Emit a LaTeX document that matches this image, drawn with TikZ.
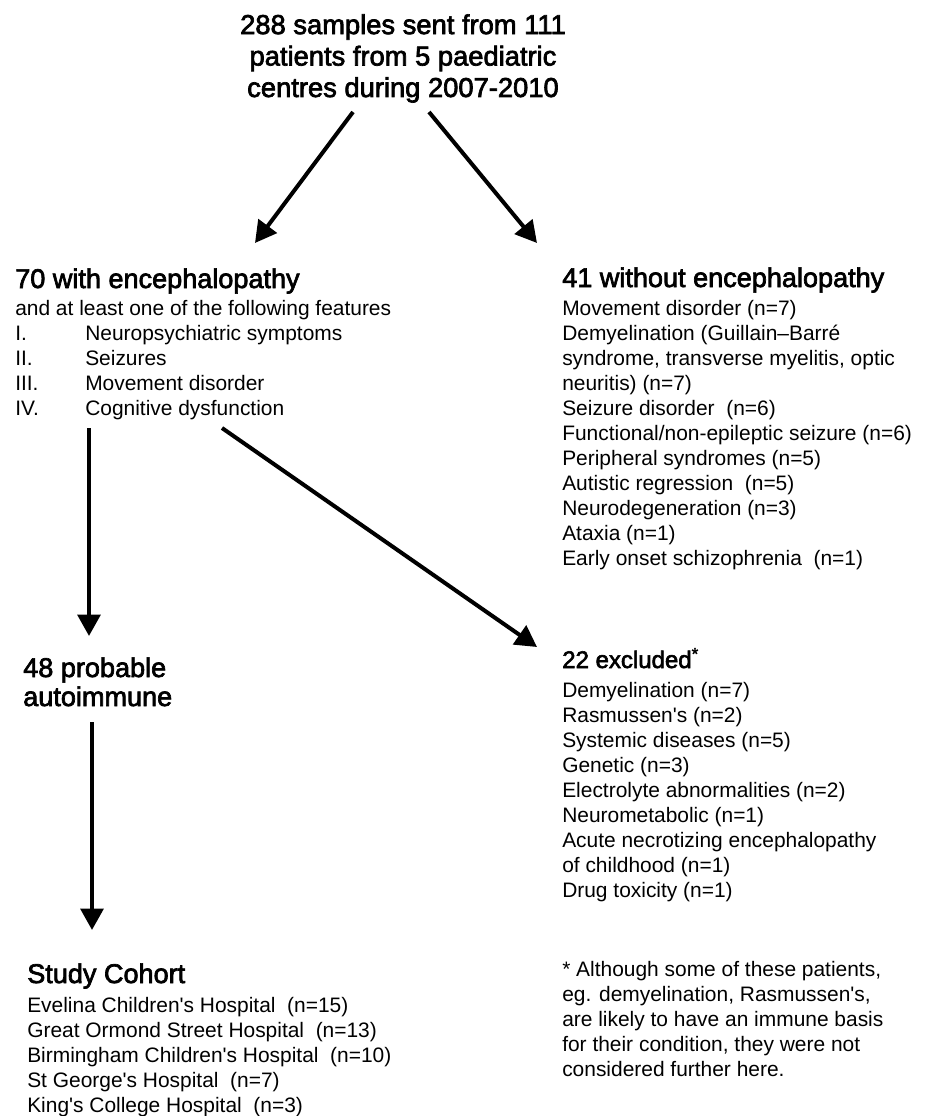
\documentclass[tikz,border=0pt]{standalone}
\usepackage{fontspec}
\setmainfont{Liberation Sans}[Ligatures=TeXOff]
\newfontfamily\headfont[RawFeature={embolden=2.5},Ligatures=TeXOff]{Liberation Sans}
\usetikzlibrary{arrows.meta}
\begin{document}
\begin{tikzpicture}[x=0.75pt,y=-0.75pt,
  txt/.style={anchor=base west, align=left, inner sep=0pt, font=\fontsize{15.7}{18.75}\selectfont},
  head/.style={anchor=base west, align=left, inner sep=0pt, font=\headfont\fontsize{20.3}{21.75}\selectfont},
  arr/.style={line width=3pt, -{Triangle[length=16pt,width=17pt]}}]
\fill[white] (0,0) rectangle (928,1116);
\useasboundingbox (0,0) rectangle (928,1116);
% title (anchor at baseline of last line)
\node[head, anchor=base, align=center, font=\headfont\fontsize{20.5}{23.6}\selectfont] (title) at (403,97)
  {288 samples sent from 111\\patients from 5 paediatric\\centres during 2007-2010};
% left block
\node[head] (enc) at (15,288) {70 with encephalopathy};
\node[txt] (encl) at (15,415) {and at least one of the following features\\
  \makebox[52.5pt][l]{I.}Neuropsychiatric symptoms\\
  \makebox[52.5pt][l]{II.}Seizures\\
  \makebox[52.5pt][l]{III.}Movement disorder\\
  \makebox[52.5pt][l]{IV.}Cognitive dysfunction};
% right block
\node[head] (wo) at (562,287) {41 without encephalopathy};
\node[txt] (wol) at (562,565) {Movement disorder (n=7)\\Demyelination (Guillain–Barré\\syndrome, transverse myelitis, optic\\neuritis) (n=7)\\Seizure disorder\ \ (n=6)\\Functional/non-epileptic seizure (n=6)\\Peripheral syndromes (n=5)\\Autistic regression\ \ (n=5)\\Neurodegeneration (n=3)\\Ataxia (n=1)\\Early onset schizophrenia\ \ (n=1)};
% probable
\node[head] (prob) at (23,706) {48 probable\\autoimmune};
% excluded
\node[head, font=\headfont\fontsize{18}{21}\selectfont] (exc) at (562,668) {22 excluded\textsuperscript{*}};
\node[txt] (excl) at (562,897) {Demyelination (n=7)\\Rasmussen's (n=2)\\Systemic diseases (n=5)\\Genetic (n=3)\\Electrolyte abnormalities (n=2)\\Neurometabolic (n=1)\\Acute necrotizing encephalopathy\\of childhood (n=1)\\Drug toxicity (n=1)};
% cohort
\node[head] (coh) at (27,983) {Study Cohort};
\node[txt] (cohl) at (27,1112) {Evelina Children's Hospital\ \ (n=15)\\Great Ormond Street Hospital\ \ (n=13)\\Birmingham Children's Hospital\ \ (n=10)\\St George's Hospital\ \ (n=7)\\King's College Hospital\ \ (n=3)};
% footnote
\node[txt] (foot) at (562,1076) {* Although some of these patients,\\eg. demyelination, Rasmussen's,\\are likely to have an immune basis\\for their condition, they were not\\considered further here.};
% arrow end points
\coordinate (a1s) at (353,112); \coordinate (a1e) at (255,243);
\coordinate (a2s) at (429,112); \coordinate (a2e) at (537,243);
\coordinate (a3s) at (89,428);  \coordinate (a3e) at (89,636);
\coordinate (a4s) at (222,428); \coordinate (a4e) at (537,647);
\coordinate (a5s) at (92,722);  \coordinate (a5e) at (92,930);
\draw[arr] (a1s) -- (a1e);
\draw[arr] (a2s) -- (a2e);
\draw[arr] (a3s) -- (a3e);
\draw[arr] (a4s) -- (a4e);
\draw[arr] (a5s) -- (a5e);
\end{tikzpicture}
\end{document}
